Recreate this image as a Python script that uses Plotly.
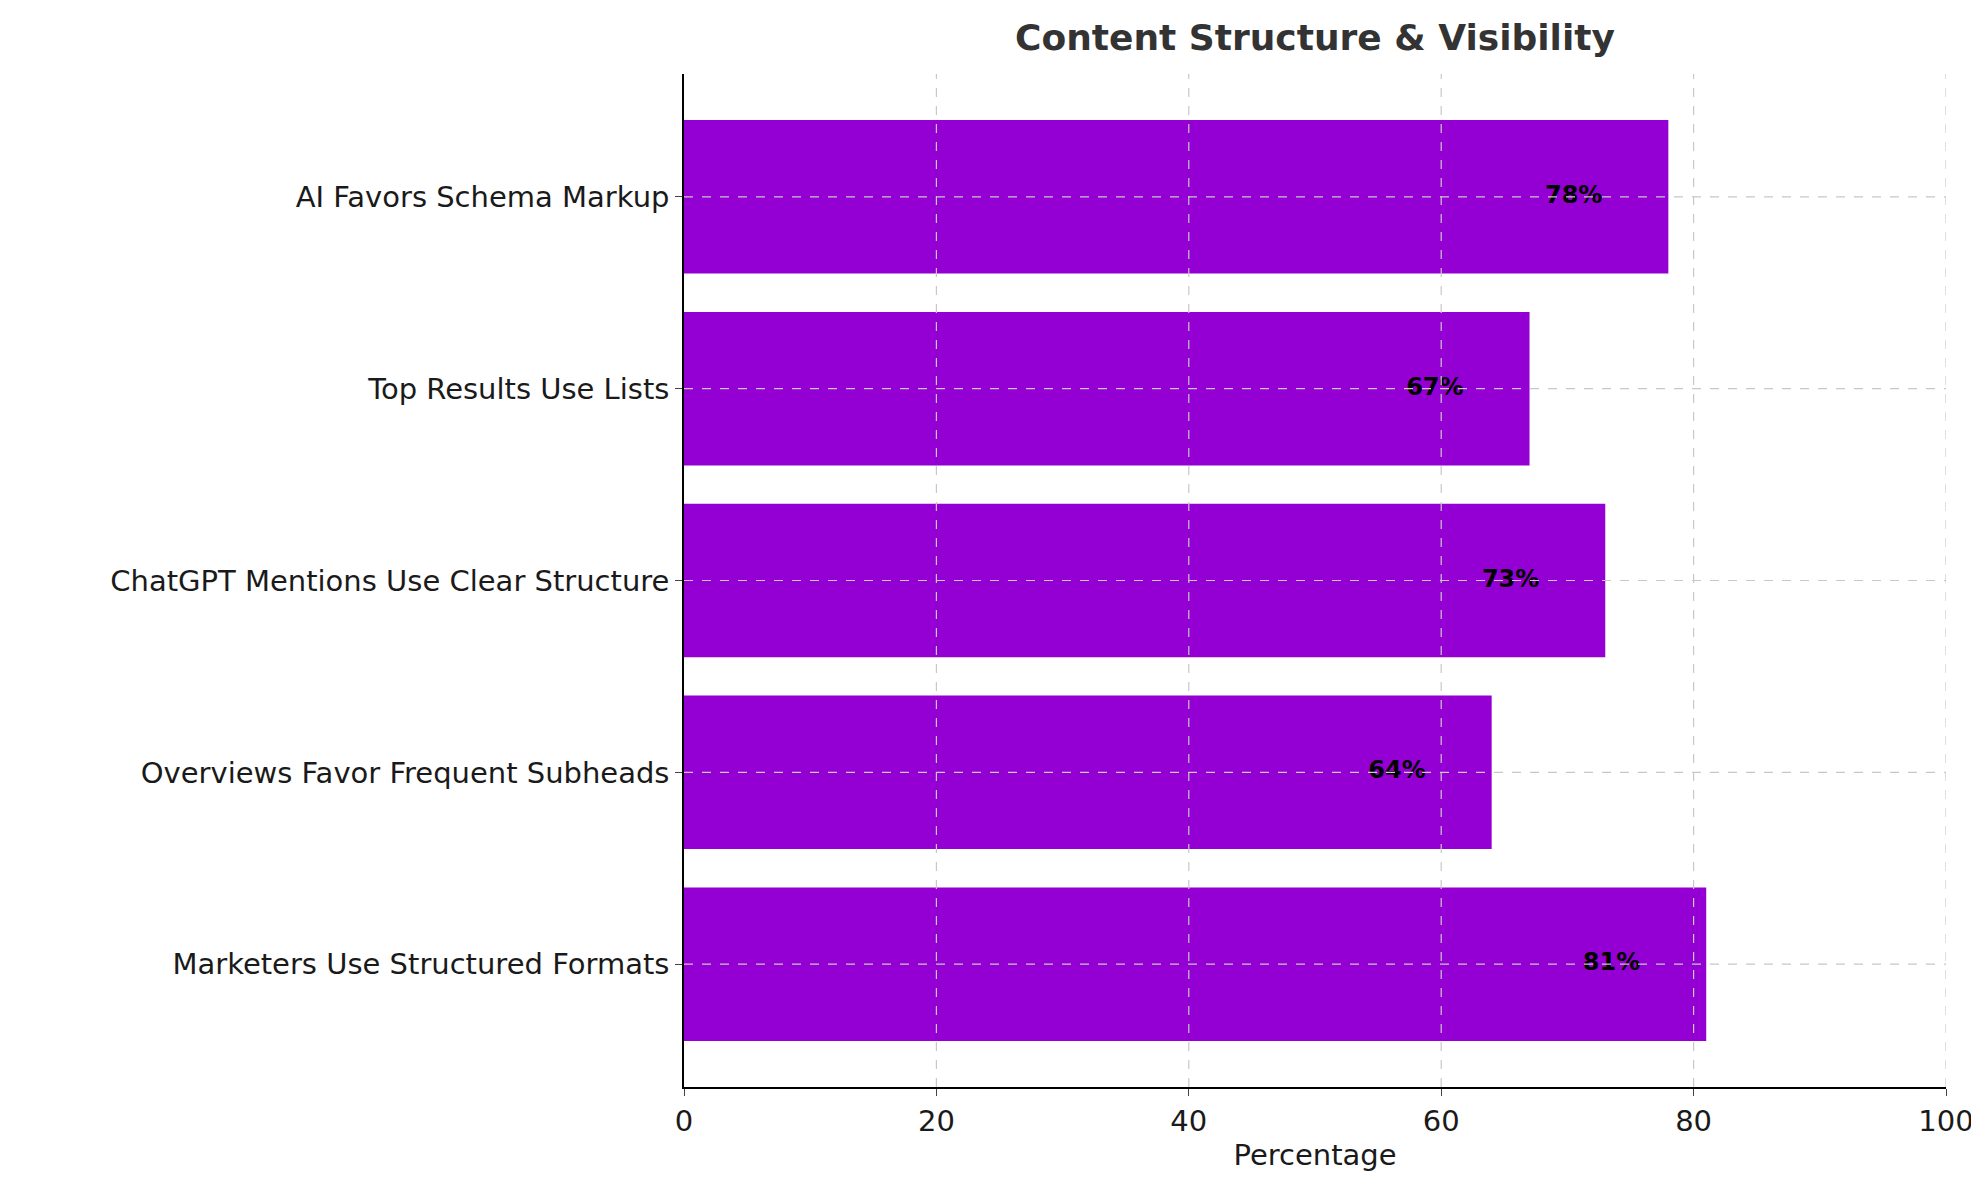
import plotly.graph_objects as go

categories = ["Marketers Use Structured Formats", "Overviews Favor Frequent Subheads",
              "ChatGPT Mentions Use Clear Structure", "Top Results Use Lists",
              "AI Favors Schema Markup"]
values = [81, 64, 73, 67, 78]
labels = [f"{v}%" for v in values]
xticks = [0, 20, 40, 60, 80, 100]

fig = go.Figure()
fig.add_trace(go.Bar(x=values, y=categories, orientation="h", width=0.8,
                     marker=dict(color="#9400D3", line=dict(width=0))))
fig.add_trace(go.Scatter(x=[v - 7.5 for v in values], y=categories, mode="text",
                         text=labels, textfont=dict(size=24, color="black",
                                                    family="DejaVu Sans", weight="bold")))

# grid drawn over the bars, as in matplotlib
grid = dict(color="#c8c8c8", width=1.2, dash="dash")
for t in xticks[1:]:
    fig.add_shape(type="line", xref="x", yref="paper", x0=t, x1=t, y0=0, y1=1,
                  line=grid, layer="above")
for c in categories:
    fig.add_shape(type="line", xref="paper", yref="y", x0=0, x1=1, y0=c, y1=c,
                  line=grid, layer="above")

fig.update_layout(
    width=1979, height=1180, showlegend=False,
    plot_bgcolor="white", paper_bgcolor="white",
    font=dict(family="DejaVu Sans", size=28, color="#1a1a1a"),
    margin=dict(l=676, r=41, t=66, b=101),
    title=dict(text="<b>Content Structure & Visibility</b>", x=0.5, xref="paper",
               xanchor="center", y=0.975, yanchor="middle",
               font=dict(size=36, color="#333333")),
)
fig.update_xaxes(range=[0, 100], tickvals=xticks, showgrid=False,
                 showline=True, linecolor="black", linewidth=1.5,
                 ticks="outside", ticklen=7, tickfont=dict(size=29),
                 title=dict(text="Percentage", font=dict(size=29), standoff=8),
                 zeroline=False)
fig.update_yaxes(showgrid=False, showline=True, linecolor="black", linewidth=1.5,
                 ticks="outside", ticklen=7, tickfont=dict(size=29),
                 range=[-0.64, 4.64])

fig.write_html("out.html")
